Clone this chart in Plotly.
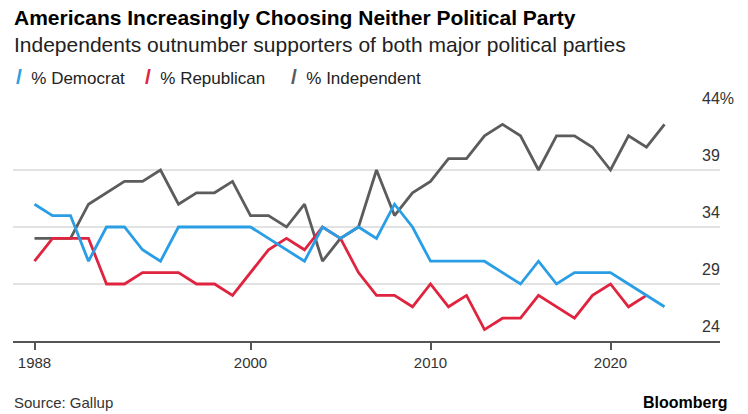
import plotly.graph_objects as go

# ---------------- data ----------------
years = list(range(1988, 2024))
democrat = [36, 35, 35, 31, 34, 34, 32, 31, 34, 34,
            34, 34, 34, 33, 32, 31, 34, 33, 34, 33,
            36, 34, 31, 31, 31, 31, 30, 29, 31, 29,
            30, 30, 30, 29, 28, 27]
republican = [31, 33, 33, 33, 29, 29, 30, 30, 30, 29,
              29, 28, 30, 32, 33, 32, 34, 33, 30, 28,
              28, 27, 29, 27, 28, 25, 26, 26, 28, 27,
              26, 28, 29, 27, 28, None]
independent = [33, 33, 33, 36, 37, 38, 38, 39, 36, 37,
               37, 38, 35, 35, 34, 36, 31, 33, 34, 39,
               35, 37, 38, 40, 40, 42, 43, 42, 39, 42,
               42, 41, 39, 42, 41, 43]

series_names = ["% Democrat", "% Republican", "% Independent"]
series_colors = ["#2a9ee4", "#e0243f", "#5c5c5c"]

x_tick_vals = [1988, 2000, 2010, 2020]
x_tick_text = ["1988", "2000", "2010", "2020"]
y_tick_vals = [24, 29, 34, 39, 44]
y_tick_text = ["24", "29", "34", "39", "44%"]

title = "Americans Increasingly Choosing Neither Political Party"
subtitle = "Independents outnumber supporters of both major political parties"
source = "Source: Gallup"
brand = "Bloomberg"

# ---------------- layout geometry ----------------
W, H = 748, 414
L, R, T, B = 13, 28, 113, 73
PW = W - L - R
PH = H - T - B
FONT = "Liberation Sans, Arial, sans-serif"


def px(x):
    return (x - L) / PW


def py(y):
    return (H - B - y) / PH


x0 = 1988 - 21.5 / 18.0
x1 = 1988 + (PW - 21.5) / 18.0

fig = go.Figure()
series = [democrat, republican, independent]
# draw order: independent, republican, democrat (blue on top)
for idx in [2, 1, 0]:
    fig.add_trace(go.Scatter(
        x=years, y=series[idx], mode="lines", name=series_names[idx],
        line=dict(color=series_colors[idx], width=2.8),
        connectgaps=False, showlegend=False, hoverinfo="x+y",
    ))

annotations = []
# title / subtitle
annotations.append(dict(text="<b>" + title + "</b>", x=px(12), y=py(17), xref="paper", yref="paper",
                        xanchor="left", yanchor="middle", showarrow=False,
                        font=dict(family=FONT, size=21, color="#000000")))
annotations.append(dict(text=subtitle, x=px(12), y=py(44), xref="paper", yref="paper",
                        xanchor="left", yanchor="middle", showarrow=False,
                        font=dict(family=FONT, size=21, color="#222222")))
# legend (slash icon + label)
legend_x = [14, 143, 289]
for name, color, lx in zip(series_names, series_colors, legend_x):
    annotations.append(dict(
        text='<span style="color:%s;font-size:21px"><b>/</b></span>&nbsp; %s' % (color, name),
        x=px(lx), y=py(76), xref="paper", yref="paper",
        xanchor="left", yanchor="middle", showarrow=False,
        font=dict(family=FONT, size=17, color="#222222")))
# y labels above gridlines on the right
for v, t in zip(y_tick_vals, y_tick_text):
    annotations.append(dict(text=t, x=px(700), y=v, xref="paper", yref="y",
                            xanchor="left", yanchor="middle", yshift=15, showarrow=False,
                            font=dict(family=FONT, size=16, color="#333333")))
# footer
annotations.append(dict(text=source, x=px(12), y=py(402), xref="paper", yref="paper",
                        xanchor="left", yanchor="middle", showarrow=False,
                        font=dict(family=FONT, size=15, color="#333333")))
annotations.append(dict(text="<b>" + brand + "</b>", x=px(729), y=py(402), xref="paper", yref="paper",
                        xanchor="right", yanchor="middle", showarrow=False,
                        font=dict(family=FONT, size=16, color="#000000")))

fig.update_layout(
    width=W, height=H,
    margin=dict(l=L, r=R, t=T, b=B, pad=0),
    paper_bgcolor="white", plot_bgcolor="white",
    font=dict(family=FONT, color="#333333"),
    showlegend=False,
    annotations=annotations,
    xaxis=dict(range=[x0, x1], tickvals=x_tick_vals, ticktext=x_tick_text,
               showgrid=False, zeroline=False, showline=True, linecolor="#555555",
               linewidth=1.5, ticks="outside", ticklen=7, tickwidth=1.5, tickcolor="#555555",
               tickfont=dict(family=FONT, size=15, color="#333333"), fixedrange=True),
    yaxis=dict(range=[24, 44], tickvals=y_tick_vals, showticklabels=False,
               showgrid=True, gridcolor="#e2e2e2", gridwidth=1.5, zeroline=False,
               showline=False, ticks="", fixedrange=True),
)

fig.write_html("out.html")
